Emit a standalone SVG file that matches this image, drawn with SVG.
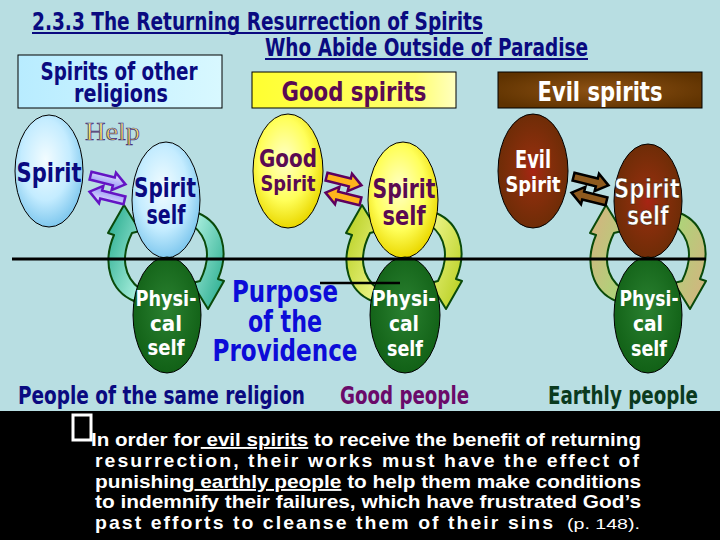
<svg xmlns="http://www.w3.org/2000/svg" xmlns:xlink="http://www.w3.org/1999/xlink" width="720" height="540" viewBox="0 0 720 540">
<style>
.h{font-family:"Liberation Sans Narrow","DejaVu Sans Condensed","Liberation Sans",sans-serif;font-weight:bold}
.p{font-family:"Liberation Sans Narrow","Liberation Sans","DejaVu Sans Condensed",sans-serif;font-weight:bold;font-size:19px;fill:#fff}
.navy{fill:#0A0A80}
.pur{fill:#5A0A52}
.wh{fill:#fff}
.el{stroke:#000;stroke-width:1}
.cyc{stroke:#0A4A0A;stroke-width:2;stroke-linejoin:round}
</style>
<defs>
<radialGradient id="gBlue" cx="0.45" cy="0.4" r="0.6"><stop offset="0" stop-color="#F2FCFF"/><stop offset="0.6" stop-color="#C4ECFF"/><stop offset="1" stop-color="#80C8EE"/></radialGradient>
<radialGradient id="gYel" cx="0.45" cy="0.4" r="0.6"><stop offset="0" stop-color="#FFFFC8"/><stop offset="0.6" stop-color="#FFFF5A"/><stop offset="1" stop-color="#EAD800"/></radialGradient>
<radialGradient id="gBrown" cx="0.5" cy="0.5" r="0.55"><stop offset="0" stop-color="#A82414"/><stop offset="0.35" stop-color="#8A2E0C"/><stop offset="1" stop-color="#6A2C06"/></radialGradient>
<radialGradient id="gGreen" cx="0.5" cy="0.45" r="0.6"><stop offset="0" stop-color="#2A8030"/><stop offset="1" stop-color="#0F5E14"/></radialGradient>
<linearGradient id="gCyanBox" x1="0" y1="0" x2="1" y2="0"><stop offset="0" stop-color="#B8ECFF"/><stop offset="1" stop-color="#D8F8FF"/></linearGradient>
<linearGradient id="gYelBox" x1="0" y1="0" x2="1" y2="0"><stop offset="0" stop-color="#FFFF30"/><stop offset="0.8" stop-color="#FFFF70"/><stop offset="1" stop-color="#FFFFC0"/></linearGradient>
<radialGradient id="gBrownBox" cx="0.5" cy="0.5" r="0.6"><stop offset="0" stop-color="#8E5214"/><stop offset="1" stop-color="#5E3200"/></radialGradient>
<linearGradient id="gTeal" x1="0" y1="0" x2="1" y2="1"><stop offset="0" stop-color="#20A88A"/><stop offset="1" stop-color="#B4F4E4"/></linearGradient>
<linearGradient id="gLime" x1="0" y1="0" x2="1" y2="1"><stop offset="0" stop-color="#B4CC18"/><stop offset="1" stop-color="#F0F890"/></linearGradient>
<linearGradient id="gTan" x1="0" y1="0" x2="1" y2="1"><stop offset="0" stop-color="#D8B080"/><stop offset="1" stop-color="#A8D878"/></linearGradient>
<linearGradient id="gLav" x1="0" y1="0" x2="0" y2="1"><stop offset="0" stop-color="#E8E8FF"/><stop offset="1" stop-color="#8C8CF4"/></linearGradient>
<linearGradient id="gHelp" x1="0" y1="0" x2="0" y2="1"><stop offset="0" stop-color="#FFF8A0"/><stop offset="1" stop-color="#F0C830"/></linearGradient>
<path id="cyc" d="M -32 44 C -56 34 -64 6 -52 -22 L -58 -24 L -42 -52 L -26 -26 L -34 -24 C -46 0 -42 20 -26 32 Z"/>
<path id="blk" d="M -18 -4 L 6 -4 L 6 -9 L 18 0 L 6 9 L 6 4 L -18 4 Z"/>
</defs>

<rect x="0" y="0" width="720" height="540" fill="#B8DEE2"/>
<rect x="0" y="411" width="720" height="129" fill="#000"/>

<g id="title" class="h navy">
<text x="32" y="30" font-size="25" textLength="451" lengthAdjust="spacingAndGlyphs">2.3.3 The Returning Resurrection of Spirits</text>
<text x="265" y="56" font-size="25" textLength="323" lengthAdjust="spacingAndGlyphs">Who Abide Outside of Paradise</text>
<rect x="32" y="32" width="451" height="2" fill="#0A0A80"/>
<rect x="265" y="58" width="323" height="2" fill="#0A0A80"/>
</g>

<g id="box-other">
<rect x="18" y="55" width="204" height="53" fill="url(#gCyanBox)" stroke="#000" stroke-width="1"/>
<text class="h navy" x="119" y="80" font-size="24" text-anchor="middle" textLength="157" lengthAdjust="spacingAndGlyphs">Spirits of other</text>
<text class="h navy" x="121" y="102" font-size="24" text-anchor="middle" textLength="94" lengthAdjust="spacingAndGlyphs">religions</text>
</g>
<g id="box-good">
<rect x="252" y="72" width="204" height="36" fill="url(#gYelBox)" stroke="#000" stroke-width="1"/>
<text class="h pur" x="354" y="101" font-size="27" text-anchor="middle" textLength="145" lengthAdjust="spacingAndGlyphs">Good spirits</text>
</g>
<g id="box-evil">
<rect x="498" y="72" width="204" height="36" fill="url(#gBrownBox)" stroke="#000" stroke-width="1"/>
<text class="h wh" x="600" y="101" font-size="27" text-anchor="middle" textLength="125" lengthAdjust="spacingAndGlyphs">Evil spirits</text>
</g>

<g id="help">
<text x="85" y="140" font-family="'Liberation Serif',serif" font-size="26" fill="url(#gHelp)" stroke="#3C2C84" stroke-width="0.7" textLength="55" lengthAdjust="spacingAndGlyphs">Help</text>
</g>

<g id="connectors">
<g transform="translate(166,257)"><use xlink:href="#cyc" fill="url(#gTeal)" class="cyc"/><use xlink:href="#cyc" fill="url(#gTeal)" class="cyc" transform="rotate(180)"/></g>
<g transform="translate(404,257)"><use xlink:href="#cyc" fill="url(#gLime)" class="cyc"/><use xlink:href="#cyc" fill="url(#gLime)" class="cyc" transform="rotate(180)"/></g>
<g transform="translate(648,257)"><use xlink:href="#cyc" fill="url(#gTan)" class="cyc"/><use xlink:href="#cyc" fill="url(#gTan)" class="cyc" transform="rotate(180)"/></g>
<g fill="url(#gLav)" stroke="#6414C4" stroke-width="2.5" stroke-linejoin="miter">
<use xlink:href="#blk" transform="translate(108,180) rotate(14)"/>
<use xlink:href="#blk" transform="translate(107,196) rotate(194)"/>
</g>
<g fill="#FFB41C" stroke="#5E005E" stroke-width="2.5">
<use xlink:href="#blk" transform="translate(344,181) rotate(14)"/>
<use xlink:href="#blk" transform="translate(343,197) rotate(194)"/>
</g>
<g fill="#8E5A1E" stroke="#000" stroke-width="2.5">
<use xlink:href="#blk" transform="translate(591,181) rotate(14)"/>
<use xlink:href="#blk" transform="translate(589,197) rotate(194)"/>
</g>
</g>

<g id="spirit-other">
<ellipse class="el" cx="49" cy="171" rx="34" ry="56" fill="url(#gBlue)"/>
<text class="h navy" x="49" y="182" font-size="27" text-anchor="middle" textLength="65" lengthAdjust="spacingAndGlyphs">Spirit</text>
</g>
<g id="spirit-self-1">
<ellipse class="el" cx="166" cy="200" rx="34" ry="58" fill="url(#gBlue)"/>
<text class="h navy" x="165" y="197" font-size="26" text-anchor="middle" textLength="62" lengthAdjust="spacingAndGlyphs">Spirit</text>
<text class="h navy" x="166" y="224" font-size="26" text-anchor="middle" textLength="39" lengthAdjust="spacingAndGlyphs">self</text>
</g>
<g id="physical-1">
<ellipse class="el" cx="167" cy="315" rx="34" ry="58" fill="url(#gGreen)"/>
<text class="h wh" x="166" y="306" font-size="22" text-anchor="middle" textLength="61" lengthAdjust="spacingAndGlyphs">Physi-</text>
<text class="h wh" x="166" y="331" font-size="22" text-anchor="middle" textLength="32" lengthAdjust="spacingAndGlyphs">cal</text>
<text class="h wh" x="166" y="355" font-size="22" text-anchor="middle" textLength="37" lengthAdjust="spacingAndGlyphs">self</text>
</g>

<g id="good-spirit">
<ellipse class="el" cx="288" cy="171" rx="35" ry="57" fill="url(#gYel)"/>
<text class="h pur" x="288" y="167" font-size="25" text-anchor="middle" textLength="58" lengthAdjust="spacingAndGlyphs">Good</text>
<text class="h pur" x="288" y="191" font-size="21" text-anchor="middle" textLength="55" lengthAdjust="spacingAndGlyphs">Spirit</text>
</g>
<g id="spirit-self-2">
<ellipse class="el" cx="403" cy="200" rx="35" ry="58" fill="url(#gYel)"/>
<text class="h pur" x="404" y="198" font-size="26" text-anchor="middle" textLength="63" lengthAdjust="spacingAndGlyphs">Spirit</text>
<text class="h pur" x="404" y="225" font-size="26" text-anchor="middle" textLength="43" lengthAdjust="spacingAndGlyphs">self</text>
</g>
<g id="physical-2">
<ellipse class="el" cx="405" cy="315" rx="35" ry="58" fill="url(#gGreen)"/>
<text class="h wh" x="404" y="306" font-size="22" text-anchor="middle" textLength="64" lengthAdjust="spacingAndGlyphs">Physi-</text>
<text class="h wh" x="404" y="331" font-size="22" text-anchor="middle" textLength="30" lengthAdjust="spacingAndGlyphs">cal</text>
<text class="h wh" x="405" y="356" font-size="22" text-anchor="middle" textLength="36" lengthAdjust="spacingAndGlyphs">self</text>
</g>

<g id="evil-spirit">
<ellipse class="el" cx="533" cy="171" rx="35" ry="57" fill="url(#gBrown)"/>
<text class="h wh" x="533" y="168" font-size="24" text-anchor="middle" textLength="36" lengthAdjust="spacingAndGlyphs">Evil</text>
<text class="h wh" x="533" y="192" font-size="21" text-anchor="middle" textLength="55" lengthAdjust="spacingAndGlyphs">Spirit</text>
</g>
<g id="spirit-self-3">
<ellipse class="el" cx="648" cy="201" rx="34" ry="57" fill="url(#gBrown)"/>
<text class="h wh" x="647" y="198" font-size="26" text-anchor="middle" textLength="66" lengthAdjust="spacingAndGlyphs" stroke="#3A1A00" stroke-width="0.6">Spirit</text>
<text class="h wh" x="648" y="225" font-size="26" text-anchor="middle" textLength="42" lengthAdjust="spacingAndGlyphs" stroke="#3A1A00" stroke-width="0.6">self</text>
</g>
<g id="physical-3">
<ellipse class="el" cx="648" cy="315" rx="34" ry="58" fill="url(#gGreen)"/>
<text class="h wh" x="649" y="306" font-size="22" text-anchor="middle" textLength="59" lengthAdjust="spacingAndGlyphs">Physi-</text>
<text class="h wh" x="648" y="331" font-size="22" text-anchor="middle" textLength="30" lengthAdjust="spacingAndGlyphs">cal</text>
<text class="h wh" x="649" y="356" font-size="22" text-anchor="middle" textLength="36" lengthAdjust="spacingAndGlyphs">self</text>
</g>

<g id="lines">
<line x1="12" y1="259" x2="706" y2="259" stroke="#000" stroke-width="3"/>
<line x1="320" y1="283" x2="400" y2="283" stroke="#000" stroke-width="2.5"/>
</g>

<g id="purpose" class="h" fill="#0C0CD8">
<text x="285" y="302" font-size="31" text-anchor="middle" textLength="106" lengthAdjust="spacingAndGlyphs">Purpose</text>
<text x="285" y="332" font-size="31" text-anchor="middle" textLength="74" lengthAdjust="spacingAndGlyphs">of the</text>
<text x="285" y="361" font-size="31" text-anchor="middle" textLength="145" lengthAdjust="spacingAndGlyphs">Providence</text>
</g>

<g id="labels" class="h">
<text x="18" y="404" font-size="25" fill="#0A0A80" textLength="287" lengthAdjust="spacingAndGlyphs">People of the same religion</text>
<text x="340" y="404" font-size="25" fill="#6A0A6A" textLength="129" lengthAdjust="spacingAndGlyphs">Good people</text>
<text x="548" y="404" font-size="25" fill="#0A3A1E" textLength="150" lengthAdjust="spacingAndGlyphs">Earthly people</text>
</g>

<g id="paragraph">
<text class="p" x="91" y="446" textLength="550" lengthAdjust="spacingAndGlyphs">In order for<tspan style="text-decoration:underline"> evil spirits</tspan> to receive the benefit of returning</text>
<rect x="73" y="415" width="18" height="25" fill="#000" stroke="#fff" stroke-width="3"/>
<text class="p" x="95" y="467" textLength="546" lengthAdjust="spacingAndGlyphs" letter-spacing="2">resurrection, their works must have the effect of</text>
<text class="p" x="95" y="488" textLength="546" lengthAdjust="spacingAndGlyphs">punishing<tspan style="text-decoration:underline"> earthly people</tspan> to help them make conditions</text>
<text class="p" x="95" y="508" textLength="546" lengthAdjust="spacingAndGlyphs">to indemnify their failures, which have frustrated God’s</text>
<text class="p" x="95" y="529" textLength="460" lengthAdjust="spacingAndGlyphs" letter-spacing="2">past efforts to cleanse them of their sins</text>
<text x="567" y="529" font-family="'Liberation Sans',sans-serif" font-size="15" fill="#fff" textLength="73" lengthAdjust="spacingAndGlyphs">(p. 148).</text>
</g>
</svg>
